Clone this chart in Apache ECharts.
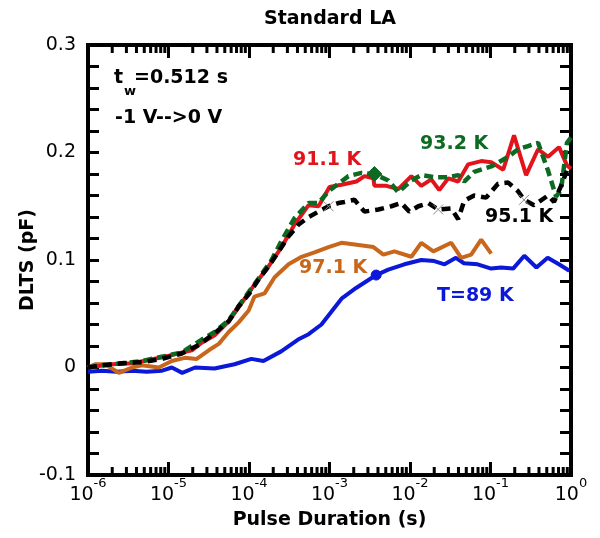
<!DOCTYPE html>
<html>
<head>
<meta charset="utf-8">
<script src="https://cdn.jsdelivr.net/npm/echarts@6/dist/echarts.min.js"></script>
<style>html,body{margin:0;padding:0;background:#fff}#c{width:600px;height:538px}</style>
</head>
<body>
<div id="c"></div>
<script>
// ---- data (pulse duration in s, DLTS in pF) ----
const t89 = [[1e-6,-0.004],[1.48e-6,-0.003],[2.29e-6,-0.004],[3.55e-6,-0.003],[5.37e-6,-0.004],[8.32e-6,-0.003],[1.10e-5,0.000],[1.48e-5,-0.005],[2.14e-5,0.000],[3.72e-5,-0.001],[6.61e-5,0.003],[1.07e-4,0.008],[1.51e-4,0.006],[2.51e-4,0.015],[4.07e-4,0.026],[5.50e-4,0.031],[7.94e-4,0.040],[1.41e-3,0.064],[2.14e-3,0.074],[3.80e-3,0.086],[5.37e-3,0.091],[8.51e-3,0.096],[1.38e-2,0.100],[2.00e-2,0.099],[2.69e-2,0.096],[3.72e-2,0.102],[4.68e-2,0.097],[6.92e-2,0.096],[0.102,0.092],[0.135,0.093],[0.191,0.092],[0.263,0.104],[0.372,0.093],[0.513,0.102],[0.708,0.096],[0.955,0.090]];
const t91 = [[1e-6,0.000],[1.22e-6,0.001],[1.99e-6,0.003],[3.52e-6,0.004],[5.71e-6,0.007],[1.01e-5,0.011],[1.95e-5,0.016],[2.59e-5,0.023],[3.75e-5,0.030],[5.60e-5,0.043],[8.11e-5,0.060],[1.17e-4,0.077],[1.75e-4,0.094],[2.54e-4,0.112],[3.68e-4,0.133],[5.50e-4,0.151],[7.31e-4,0.150],[1.00e-3,0.168],[1.41e-3,0.170],[2.16e-3,0.173],[2.72e-3,0.178],[3.51e-3,0.176],[3.61e-3,0.169],[5.09e-3,0.169],[7.16e-3,0.166],[1.04e-2,0.178],[1.38e-2,0.169],[1.84e-2,0.175],[2.31e-2,0.165],[2.99e-2,0.176],[3.97e-2,0.173],[5.28e-2,0.189],[7.66e-2,0.192],[0.102,0.191],[0.144,0.184],[0.196,0.216],[0.277,0.179],[0.390,0.203],[0.519,0.196],[0.710,0.205],[0.891,0.188],[1,0.185]];
const t93 = [[1e-6,0.000],[1.49e-6,0.002],[2.64e-6,0.004],[4.67e-6,0.006],[8.26e-6,0.010],[1.46e-5,0.014],[2.59e-5,0.026],[3.75e-5,0.033],[5.60e-5,0.044],[8.11e-5,0.061],[1.32e-4,0.083],[1.91e-4,0.100],[2.54e-4,0.118],[3.68e-4,0.139],[5.50e-4,0.153],[7.31e-4,0.153],[9.73e-4,0.164],[1.29e-3,0.171],[1.72e-3,0.178],[2.49e-3,0.181],[3.61e-3,0.180],[5.38e-3,0.174],[7.16e-3,0.163],[1.04e-2,0.174],[1.38e-2,0.179],[2.00e-2,0.177],[2.99e-2,0.177],[3.97e-2,0.179],[4.71e-2,0.173],[6.27e-2,0.182],[0.102,0.187],[0.166,0.196],[0.220,0.203],[0.293,0.206],[0.390,0.209],[0.519,0.183],[0.652,0.159],[0.752,0.165],[0.891,0.209],[1,0.214]];
const t95 = [[1e-6,0.000],[1.49e-6,0.002],[2.64e-6,0.004],[4.67e-6,0.005],[8.26e-6,0.008],[1.46e-5,0.013],[2.38e-5,0.021],[3.75e-5,0.032],[5.60e-5,0.043],[7.45e-5,0.057],[9.91e-5,0.068],[1.32e-4,0.082],[1.75e-4,0.094],[2.33e-4,0.108],[3.10e-4,0.122],[4.13e-4,0.133],[5.50e-4,0.140],[7.31e-4,0.145],[9.73e-4,0.150],[1.29e-3,0.153],[1.53e-3,0.154],[2.04e-3,0.156],[2.72e-3,0.145],[4.05e-3,0.147],[5.86e-3,0.150],[7.80e-3,0.153],[9.82e-3,0.145],[1.27e-2,0.150],[1.69e-2,0.153],[2.24e-2,0.147],[3.25e-2,0.148],[3.97e-2,0.138],[4.71e-2,0.155],[6.27e-2,0.160],[8.83e-2,0.158],[0.124,0.171],[0.166,0.172],[0.220,0.164],[0.261,0.156],[0.348,0.151],[0.519,0.160],[0.615,0.154],[0.752,0.169],[0.891,0.183]];
const t97 = [[1e-6,0.000],[1.22e-6,0.003],[1.63e-6,0.003],[2.42e-6,-0.005],[3.52e-6,0.000],[4.67e-6,0.002],[7.59e-6,0.000],[1.10e-5,0.006],[1.59e-5,0.009],[2.24e-5,0.008],[3.16e-5,0.016],[4.21e-5,0.022],[5.60e-5,0.033],[7.45e-5,0.042],[9.91e-5,0.053],[1.17e-4,0.066],[1.56e-4,0.069],[2.08e-4,0.084],[3.10e-4,0.096],[4.50e-4,0.103],[6.52e-4,0.107],[9.73e-4,0.112],[1.41e-3,0.116],[2.29e-3,0.114],[3.51e-3,0.112],[4.67e-3,0.105],[6.40e-3,0.108],[1.04e-2,0.103],[1.38e-2,0.116],[1.95e-2,0.108],[3.25e-2,0.116],[4.33e-2,0.102],[5.75e-2,0.105],[7.66e-2,0.119],[0.102,0.106]];
const seriesNames = ['T=89 K','91.1 K','93.2 K','95.1 K','97.1 K'];
const xMin = 1e-6, xMax = 1, yMin = -0.1, yMax = 0.3, yStep = 0.1;
const xDecades = [-6,-5,-4,-3,-2,-1,0];
const xMinorMantissas = [2,3,4,5,6,7,8,9];
// indices of points carrying markers
const t89MarkIdx = [19];
const t93MarkIdx = [20];
const t95MarkIdx = [18, 29, 38];

const xMinorTicks = [];
xDecades.slice(0,-1).forEach(d => xMinorMantissas.forEach(m => xMinorTicks.push([m*Math.pow(10,d), 0])));

const FONT = '"DejaVu Sans", sans-serif';
const cRed='#e3131b', cGreen='#0c6a22', cBlack='#000000', cOrange='#c8661c', cBlue='#0b18d8';

const chart = echarts.init(document.getElementById('c'), null, {renderer:'canvas'});

function withMarks(arr, idx, sym, size, color){
  return arr.map((v,i)=> idx.includes(i) ? {value:v, symbol:sym, symbolSize:size, itemStyle:{color:color, borderColor:color, borderWidth:1}} : v);
}
const xPath = 'path://M0,0L10,10M10,0L0,10';

const axisLineStyle = {color:'#000', width:4, cap:'square'};
const xAxisCommon = {type:'log', logBase:10, min:xMin, max:xMax, splitNumber:6,
  axisLine:{show:true, onZero:false, lineStyle:axisLineStyle},
  axisTick:{show:true, inside:true, length:13, lineStyle:{color:'#000', width:3}},
  splitLine:{show:false}, minorTick:{show:false}};
const yAxisCommon = {type:'value', min:yMin, max:yMax, interval:yStep,
  axisLine:{show:true, onZero:false, lineStyle:axisLineStyle},
  axisTick:{show:true, inside:true, length:11, lineStyle:{color:'#000', width:3}},
  minorTick:{show:true, splitNumber:5, length:11, lineStyle:{color:'#000', width:3}},
  splitLine:{show:false}, minorSplitLine:{show:false}};

const option = {
  animation:false,
  backgroundColor:'#fff',
  grid:{left:88, right:29, top:45, bottom:63, containLabel:false},
  xAxis:[
    Object.assign({}, xAxisCommon, {position:'bottom',
      name:'Pulse Duration (s)', nameLocation:'middle', nameGap:36,
      nameTextStyle:{fontFamily:FONT, fontSize:19, fontWeight:'bold', color:'#000'},
      axisLabel:{show:true, margin:2, color:'#000',
        formatter:v => '{b|10}{s|' + Math.round(Math.log10(v)) + '}',
        rich:{b:{fontFamily:FONT, fontSize:19, lineHeight:28, verticalAlign:'bottom', color:'#000'},
              s:{fontFamily:FONT, fontSize:13, lineHeight:14, verticalAlign:'top', color:'#000'}}}}),
    Object.assign({}, xAxisCommon, {position:'top', axisLabel:{show:false}})
  ],
  yAxis:[
    Object.assign({}, yAxisCommon, {position:'left',
      name:'DLTS (pF)', nameLocation:'middle', nameGap:50, nameRotate:90, nameMoveOverlap:false,
      nameTextStyle:{fontFamily:FONT, fontSize:19, fontWeight:'bold', color:'#000'},
      axisLabel:{show:true, margin:12, fontFamily:FONT, fontSize:19, color:'#000'}}),
    Object.assign({}, yAxisCommon, {position:'right', axisLabel:{show:false}})
  ],
  series:[
    {type:'custom', name:'minorTicks', silent:true, clip:false, xAxisIndex:0, yAxisIndex:0,
      data:xMinorTicks, z:10,
      renderItem:(params, api)=>{
        const x = api.value(0);
        const b = api.coord([x, yMin]);
        const t = api.coord([x, yMax]);
        return {type:'group', children:[
          {type:'line', shape:{x1:b[0], y1:b[1], x2:b[0], y2:b[1]-8}, style:{stroke:'#000', lineWidth:3}},
          {type:'line', shape:{x1:t[0], y1:t[1], x2:t[0], y2:t[1]+8}, style:{stroke:'#000', lineWidth:3}}
        ]};
      }},
    {type:'line', name:seriesNames[0], data:withMarks(t89, t89MarkIdx, 'circle', 10, cBlue), symbol:'none',
      lineStyle:{color:cBlue, width:4}, itemStyle:{color:cBlue}, z:2},
    {type:'line', name:seriesNames[4], data:t97, symbol:'none',
      lineStyle:{color:cOrange, width:4}, itemStyle:{color:cOrange}, z:3},
    {type:'line', name:seriesNames[1], data:t91, symbol:'none',
      lineStyle:{color:cRed, width:4}, itemStyle:{color:cRed}, z:4},
    {type:'line', name:seriesNames[2], data:withMarks(t93, t93MarkIdx, 'diamond', 15, cGreen), symbol:'none',
      lineStyle:{color:cGreen, width:4.5, type:[9,5]}, itemStyle:{color:cGreen}, z:5},
    {type:'line', name:seriesNames[3], data:withMarks(t95, t95MarkIdx, xPath, 10, '#8a8a8a'), symbol:'none',
      lineStyle:{color:cBlack, width:4.5, type:[9,6]}, itemStyle:{color:cBlack}, z:6}
  ],
  graphic:[
    {type:'text', style:{x:330, y:19, text:'Standard LA', fontFamily:FONT, fontSize:19, fontWeight:'bold', fill:'#000', align:'center', verticalAlign:'middle'}},
    {type:'text', style:{x:114, y:78, text:'t', fontFamily:FONT, fontSize:19, fontWeight:'bold', fill:'#000', verticalAlign:'middle'}},
    {type:'text', style:{x:124, y:92, text:'w', fontFamily:FONT, fontSize:13, fontWeight:'bold', fill:'#000', verticalAlign:'middle'}},
    {type:'text', style:{x:134, y:78, text:'=0.512 s', fontFamily:FONT, fontSize:19, fontWeight:'bold', fill:'#000', verticalAlign:'middle'}},
    {type:'text', style:{x:115, y:118, text:'-1 V-->0 V', fontFamily:FONT, fontSize:19, fontWeight:'bold', fill:'#000', verticalAlign:'middle'}},
    {type:'text', style:{x:293, y:160, text:seriesNames[1], fontFamily:FONT, fontSize:19, fontWeight:'bold', fill:cRed, verticalAlign:'middle'}},
    {type:'text', style:{x:420, y:144, text:seriesNames[2], fontFamily:FONT, fontSize:19, fontWeight:'bold', fill:cGreen, verticalAlign:'middle'}},
    {type:'text', style:{x:485, y:217, text:seriesNames[3], fontFamily:FONT, fontSize:19, fontWeight:'bold', fill:cBlack, verticalAlign:'middle'}},
    {type:'text', style:{x:299, y:268, text:seriesNames[4], fontFamily:FONT, fontSize:19, fontWeight:'bold', fill:cOrange, verticalAlign:'middle'}},
    {type:'text', style:{x:437, y:296, text:seriesNames[0], fontFamily:FONT, fontSize:19, fontWeight:'bold', fill:cBlue, verticalAlign:'middle'}}
  ]
};
chart.setOption(option);
</script>
</body>
</html>
